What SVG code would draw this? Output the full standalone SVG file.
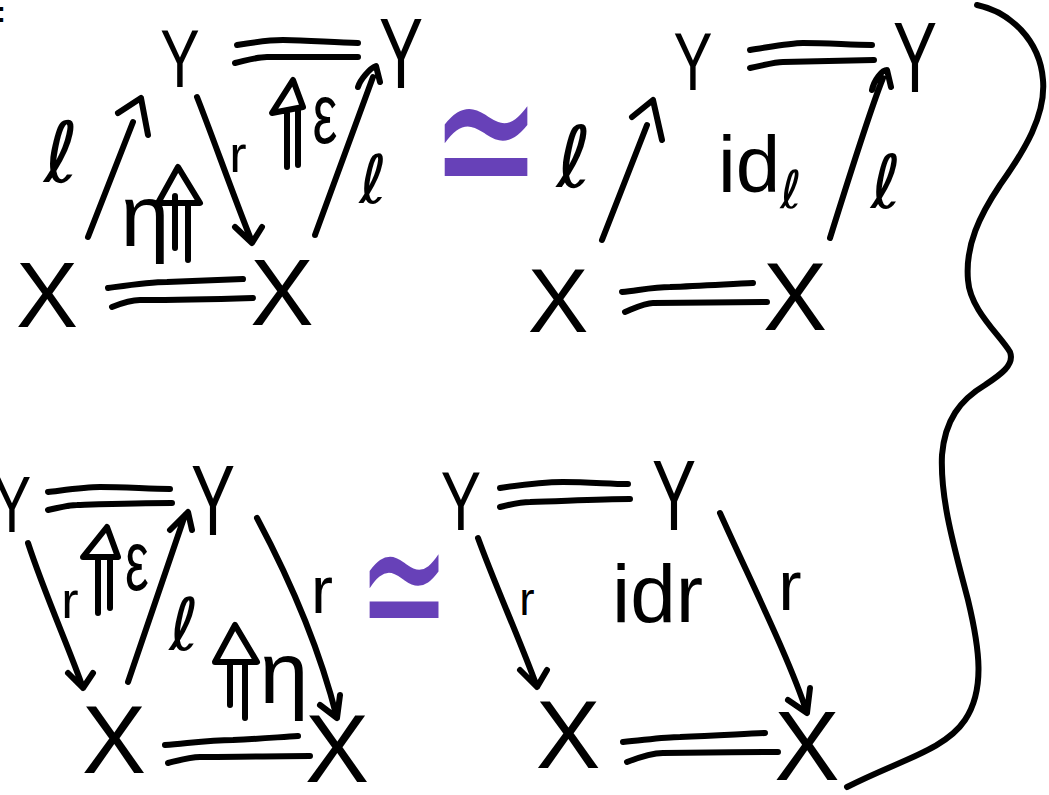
<svg xmlns="http://www.w3.org/2000/svg" width="1049" height="795" viewBox="0 0 1049 795">
<style>
.t{font-family:"Liberation Sans","DejaVu Sans",sans-serif;fill:#000;text-anchor:middle}
.l{font-family:"DejaVu Sans","Liberation Sans",sans-serif;fill:#000;text-anchor:middle}
.s{fill:none;stroke:#000;stroke-width:6;stroke-linecap:round;stroke-linejoin:round}
.iso{font-family:"DejaVu Sans","Liberation Sans",sans-serif;fill:#6741B8;text-anchor:middle}
</style>
<rect width="1049" height="795" fill="#fff"/>
<text class="t" x="1" y="22" style="font-size:30px;font-weight:bold">:</text>

<!-- top-left -->
<g id="tl-Y1"><text class="t" transform="translate(180,87) scale(0.72,1)" style="font-size:82px">Y</text></g>
<g id="tl-Y2"><text class="t" transform="translate(401,88) scale(0.66,1)" style="font-size:100px">Y</text></g>
<g id="tl-X1"><text class="t" x="47" y="327" style="font-size:93px">X</text></g>
<g id="tl-X2"><text class="t" x="282" y="325" style="font-size:95px">X</text></g>
<g id="tl-l1"><text class="l" x="61" y="182" style="font-size:84px">ℓ</text></g>
<g id="tl-r"><text class="t" x="238" y="172" style="font-size:52px">r</text></g>
<g id="tl-eps"><text class="t" transform="translate(325,143) scale(0.65,1)" style="font-size:86px">ε</text></g>
<g id="tl-l2"><text class="l" x="373" y="203" style="font-size:67px">ℓ</text></g>
<g id="tl-eta"><text class="t" x="145" y="246" style="font-size:88px">η</text></g>

<!-- top-right -->
<g id="tr-Y3"><text class="t" transform="translate(693,90) scale(0.72,1)" style="font-size:81px">Y</text></g>
<g id="tr-Y4"><text class="t" transform="translate(915,92) scale(0.66,1)" style="font-size:100px">Y</text></g>
<g id="tr-X3"><text class="t" x="558" y="332" style="font-size:91px">X</text></g>
<g id="tr-X4"><text class="t" x="795" y="330" style="font-size:96px">X</text></g>
<g id="tr-l1"><text class="l" x="574" y="187" style="font-size:85px">ℓ</text></g>
<g id="tr-id"><text class="t" x="718" y="192" style="font-size:80px;text-anchor:start">id<tspan dy="16" style="font-size:52px;font-family:'DejaVu Sans','Liberation Sans',sans-serif">ℓ</tspan></text></g>
<g id="tr-l2"><text class="l" x="886" y="208" style="font-size:74px">ℓ</text></g>

<!-- bottom-left -->
<g id="bl-Y5"><text class="t" transform="translate(12,532) scale(0.72,1)" style="font-size:80px">Y</text></g>
<g id="bl-Y6"><text class="t" transform="translate(213,535) scale(0.66,1)" style="font-size:100px">Y</text></g>
<g id="bl-X5"><text class="t" x="114" y="773" style="font-size:96px">X</text></g>
<g id="bl-X6"><text class="t" x="337" y="782" style="font-size:96px">X</text></g>
<g id="bl-r1"><text class="t" x="70" y="618" style="font-size:52px">r</text></g>
<g id="bl-eps"><text class="t" transform="translate(137,590) scale(0.62,1)" style="font-size:86px">ε</text></g>
<g id="bl-l"><text class="l" x="184" y="650" style="font-size:72px">ℓ</text></g>
<g id="bl-eta"><text class="t" x="284" y="703" style="font-size:88px">η</text></g>
<g id="bl-r2"><text class="t" x="322" y="613" style="font-size:66px">r</text></g>

<!-- bottom-right -->
<g id="br-Y7"><text class="t" transform="translate(461,530) scale(0.72,1)" style="font-size:84px">Y</text></g>
<g id="br-Y8"><text class="t" transform="translate(674,530) scale(0.66,1)" style="font-size:100px">Y</text></g>
<g id="br-X7"><text class="t" x="568" y="768" style="font-size:97px">X</text></g>
<g id="br-X8"><text class="t" x="807" y="780" style="font-size:98px">X</text></g>
<g id="br-r1"><text class="t" x="527" y="615" style="font-size:46px">r</text></g>
<g id="br-id"><text class="t" x="612" y="622" style="font-size:82px;text-anchor:start">idr</text></g>
<g id="br-r2"><text class="t" x="790" y="610" style="font-size:70px">r</text></g>

<!-- isomorphisms -->
<g id="iso-top"><text class="iso" transform="translate(486,213) scale(1.1,1.8)" style="font-size:120px">≃</text></g>
<g id="iso-bottom"><text class="iso" transform="translate(404,652) scale(1.0,1.8)" style="font-size:110px">≃</text></g>

<g id="connectors">
  <!-- top-left -->
  <path class="s" d="M237,45 C255,42 270,40 283,40 C310,40 335,43 358,43"/>
  <path class="s" d="M235,63 C248,60 257,57 267,57 L358,57"/>
  <path class="s" d="M108,288 C130,285 150,282 167,282 C190,281 215,280 243,279"/>
  <path class="s" d="M112,307 C122,303 130,300 140,300 C170,300 220,299 253,298"/>
  <path class="s" d="M88,237 L133,122 M118,113 L141,98 L148,135"/>
  <path class="s" d="M197,97 C212,135 235,200 252,242 M235,227 L252,243 L262,227"/>
  <path class="s" d="M315,235 C335,180 355,125 373,77 M358,87 C360,80 370,68 376,66 L380,82"/>
  <path class="s" d="M272,113 L293,80 L303,107 Z M287,113 V167 M298,110 V165"/>
  <path class="s" d="M158,203 L178,167 L200,203 Z M175,196 V248 M188,203 V260"/>
  <!-- top-right -->
  <path class="s" d="M750,50 C770,47 790,43 803,43 C830,43 850,45 872,45"/>
  <path class="s" d="M750,68 C765,65 775,62 783,62 L874,60"/>
  <path class="s" d="M622,292 C640,290 655,287 670,287 C700,286 730,284 753,283"/>
  <path class="s" d="M625,312 C635,308 645,303 653,303 C690,303 730,302 767,302"/>
  <path class="s" d="M602,240 L647,125 M632,117 L653,100 L662,140"/>
  <path class="s" d="M830,238 C845,190 870,110 883,78 M872,90 C874,80 882,70 887,70 L891,87"/>
  <!-- bottom-left -->
  <path class="s" d="M48,492 C65,490 85,487 100,487 C125,487 150,489 170,489"/>
  <path class="s" d="M48,510 C58,508 68,505 77,505 C110,504 140,503 172,503"/>
  <path class="s" d="M165,745 C190,743 210,740 233,740 C260,739 280,737 298,736"/>
  <path class="s" d="M168,763 C180,760 190,757 200,757 C240,757 280,756 310,756"/>
  <path class="s" d="M28,543 C45,595 70,650 83,688 M68,673 L83,688 L93,673"/>
  <path class="s" d="M83,557 L107,527 L118,557 Z M98,557 V613 M110,557 V608"/>
  <path class="s" d="M128,682 L185,515 M170,530 L188,512 L192,530"/>
  <path class="s" d="M215,662 L235,625 L257,662 Z M230,662 V705 M245,662 V718"/>
  <path class="s" d="M257,518 C290,580 320,650 337,718 M320,705 L337,718 L340,695"/>
  <!-- bottom-right -->
  <path class="s" d="M500,488 C520,485 545,482 563,482 C590,482 610,484 628,484"/>
  <path class="s" d="M500,507 C512,504 522,502 530,502 C565,501 600,499 630,499"/>
  <path class="s" d="M623,742 C645,740 665,737 680,737 C715,736 740,734 765,733"/>
  <path class="s" d="M627,762 C640,757 652,753 663,753 C700,753 740,752 778,752"/>
  <path class="s" d="M478,538 C495,585 520,640 537,687 M520,670 L537,687 L547,670"/>
  <path class="s" d="M720,513 C750,580 790,660 807,713 M788,700 L807,713 L810,688"/>
</g>

<g id="brace">
  <path class="s" d="M977,5 C1010,12 1040,40 1043,80 C1046,115 1025,150 1000,185 C980,215 965,245 968,280 C970,310 1000,335 1010,352 C1015,365 1000,375 985,385 C960,400 945,420 942,455 C940,500 955,550 968,600 C980,650 985,690 965,720 C945,750 900,760 847,787"/>
</g>
</svg>
